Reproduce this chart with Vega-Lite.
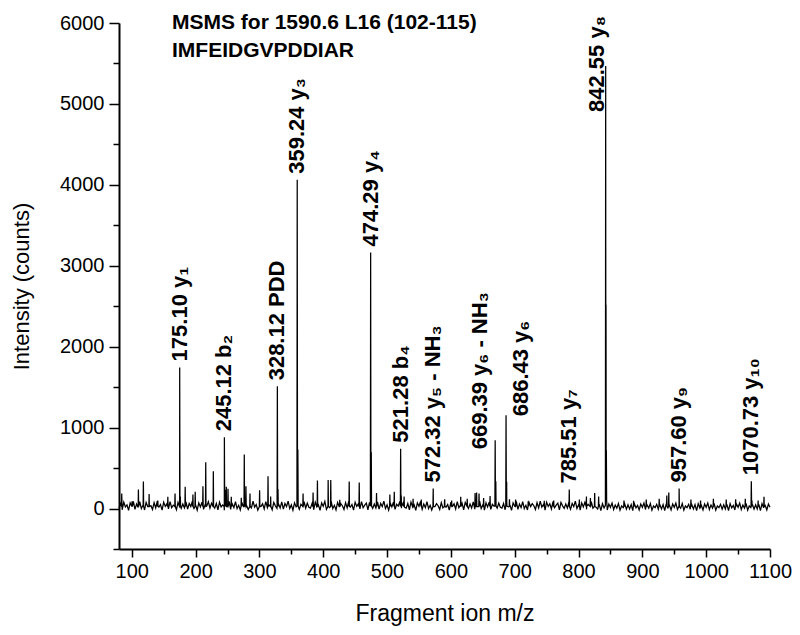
{
  "$schema": "https://vega.github.io/schema/vega-lite/v6.json",
  "width": 651,
  "height": 526,
  "padding": {"left": 10, "top": 12, "right": 5, "bottom": 2},
  "background": "white",
  "config": {
    "view": {"stroke": null},
    "font": "Liberation Sans",
    "axis": {"grid": false, "domainColor": "black", "tickColor": "black", "labelColor": "black", "titleColor": "black", "labelFont": "Liberation Sans", "titleFont": "Liberation Sans", "titleFontWeight": "normal", "domainWidth": 2, "tickWidth": 1.5, "labelOverlap": false}
  },
  "title": {"text": ["MSMS for 1590.6 L16 (102-115)", "IMFEIDGVPDDIAR"], "anchor": "start", "frame": "group", "offset": -48, "dx": 53, "fontSize": 21, "fontWeight": "bold", "font": "Liberation Sans", "color": "black", "baseline": "top", "lineHeight": 28},
  "datasets": {
    "spectrum": [
      {"mz":80,"c":5},{"mz":82.5,"c":62},{"mz":85,"c":-15},{"mz":87.5,"c":80},{"mz":90,"c":20},{"mz":92.5,"c":45},{"mz":95,"c":-22},{"mz":97.5,"c":70},{"mz":100,"c":28},{"mz":102.5,"c":88},{"mz":105,"c":-10},{"mz":107.5,"c":55},{"mz":110,"c":12},{"mz":112.5,"c":84},{"mz":115,"c":0},{"mz":117.5,"c":40},{"mz":120,"c":-18},{"mz":122.5,"c":75},{"mz":125,"c":25},{"mz":127.5,"c":60},
      {"mz":130,"c":35},{"mz":132.5,"c":-12},{"mz":135,"c":72},{"mz":137.5,"c":8},{"mz":140,"c":90},{"mz":142.5,"c":18},{"mz":145,"c":50},{"mz":147.5,"c":-20},{"mz":150,"c":78},{"mz":152.5,"c":26},{"mz":155,"c":58},{"mz":157.5,"c":-5},{"mz":160,"c":86},{"mz":162.5,"c":10},{"mz":165,"c":42},{"mz":167.5,"c":66},{"mz":170,"c":-15},{"mz":172.5,"c":76},{"mz":175,"c":33},{"mz":177.5,"c":2},
      {"mz":180,"c":55},{"mz":182.5,"c":6},{"mz":185,"c":82},{"mz":187.5,"c":-8},{"mz":190,"c":62},{"mz":192.5,"c":25},{"mz":195,"c":92},{"mz":197.5,"c":0},{"mz":200,"c":45},{"mz":202.5,"c":-20},{"mz":205,"c":70},{"mz":207.5,"c":20},{"mz":210,"c":78},{"mz":212.5,"c":-10},{"mz":215,"c":52},{"mz":217.5,"c":30},{"mz":220,"c":86},{"mz":222.5,"c":5},{"mz":225,"c":66},{"mz":227.5,"c":15},
      {"mz":230,"c":5},{"mz":232.5,"c":62},{"mz":235,"c":-15},{"mz":237.5,"c":80},{"mz":240,"c":20},{"mz":242.5,"c":45},{"mz":245,"c":-22},{"mz":247.5,"c":70},{"mz":250,"c":28},{"mz":252.5,"c":88},{"mz":255,"c":-10},{"mz":257.5,"c":55},{"mz":260,"c":12},{"mz":262.5,"c":84},{"mz":265,"c":0},{"mz":267.5,"c":40},{"mz":270,"c":-18},{"mz":272.5,"c":75},{"mz":275,"c":25},{"mz":277.5,"c":60},
      {"mz":280,"c":35},{"mz":282.5,"c":-12},{"mz":285,"c":72},{"mz":287.5,"c":8},{"mz":290,"c":90},{"mz":292.5,"c":18},{"mz":295,"c":50},{"mz":297.5,"c":-20},{"mz":300,"c":78},{"mz":302.5,"c":26},{"mz":305,"c":58},{"mz":307.5,"c":-5},{"mz":310,"c":86},{"mz":312.5,"c":10},{"mz":315,"c":42},{"mz":317.5,"c":66},{"mz":320,"c":-15},{"mz":322.5,"c":76},{"mz":325,"c":33},{"mz":327.5,"c":2},
      {"mz":330,"c":55},{"mz":332.5,"c":6},{"mz":335,"c":82},{"mz":337.5,"c":-8},{"mz":340,"c":62},{"mz":342.5,"c":25},{"mz":345,"c":92},{"mz":347.5,"c":0},{"mz":350,"c":45},{"mz":352.5,"c":-20},{"mz":355,"c":70},{"mz":357.5,"c":20},{"mz":360,"c":78},{"mz":362.5,"c":-10},{"mz":365,"c":52},{"mz":367.5,"c":30},{"mz":370,"c":86},{"mz":372.5,"c":5},{"mz":375,"c":66},{"mz":377.5,"c":15},
      {"mz":380,"c":5},{"mz":382.5,"c":62},{"mz":385,"c":-15},{"mz":387.5,"c":80},{"mz":390,"c":20},{"mz":392.5,"c":45},{"mz":395,"c":-22},{"mz":397.5,"c":70},{"mz":400,"c":28},{"mz":402.5,"c":88},{"mz":405,"c":-10},{"mz":407.5,"c":55},{"mz":410,"c":12},{"mz":412.5,"c":84},{"mz":415,"c":0},{"mz":417.5,"c":40},{"mz":420,"c":-18},{"mz":422.5,"c":75},{"mz":425,"c":25},{"mz":427.5,"c":60},
      {"mz":430,"c":35},{"mz":432.5,"c":-12},{"mz":435,"c":72},{"mz":437.5,"c":8},{"mz":440,"c":90},{"mz":442.5,"c":18},{"mz":445,"c":50},{"mz":447.5,"c":-20},{"mz":450,"c":78},{"mz":452.5,"c":26},{"mz":455,"c":58},{"mz":457.5,"c":-5},{"mz":460,"c":86},{"mz":462.5,"c":10},{"mz":465,"c":42},{"mz":467.5,"c":66},{"mz":470,"c":-15},{"mz":472.5,"c":76},{"mz":475,"c":33},{"mz":477.5,"c":2},
      {"mz":480,"c":55},{"mz":482.5,"c":6},{"mz":485,"c":82},{"mz":487.5,"c":-8},{"mz":490,"c":62},{"mz":492.5,"c":25},{"mz":495,"c":92},{"mz":497.5,"c":0},{"mz":500,"c":45},{"mz":502.5,"c":-20},{"mz":505,"c":70},{"mz":507.5,"c":20},{"mz":510,"c":78},{"mz":512.5,"c":-10},{"mz":515,"c":52},{"mz":517.5,"c":30},{"mz":520,"c":86},{"mz":522.5,"c":5},{"mz":525,"c":66},{"mz":527.5,"c":15},
      {"mz":530,"c":5},{"mz":532.5,"c":62},{"mz":535,"c":-15},{"mz":537.5,"c":80},{"mz":540,"c":20},{"mz":542.5,"c":45},{"mz":545,"c":-22},{"mz":547.5,"c":70},{"mz":550,"c":28},{"mz":552.5,"c":88},{"mz":555,"c":-10},{"mz":557.5,"c":55},{"mz":560,"c":12},{"mz":562.5,"c":84},{"mz":565,"c":0},{"mz":567.5,"c":40},{"mz":570,"c":-18},{"mz":572.5,"c":75},{"mz":575,"c":25},{"mz":577.5,"c":60},
      {"mz":580,"c":35},{"mz":582.5,"c":-12},{"mz":585,"c":72},{"mz":587.5,"c":8},{"mz":590,"c":90},{"mz":592.5,"c":18},{"mz":595,"c":50},{"mz":597.5,"c":-20},{"mz":600,"c":78},{"mz":602.5,"c":26},{"mz":605,"c":58},{"mz":607.5,"c":-5},{"mz":610,"c":86},{"mz":612.5,"c":10},{"mz":615,"c":42},{"mz":617.5,"c":66},{"mz":620,"c":-15},{"mz":622.5,"c":76},{"mz":625,"c":33},{"mz":627.5,"c":2},
      {"mz":630,"c":55},{"mz":632.5,"c":6},{"mz":635,"c":82},{"mz":637.5,"c":-8},{"mz":640,"c":62},{"mz":642.5,"c":25},{"mz":645,"c":92},{"mz":647.5,"c":0},{"mz":650,"c":45},{"mz":652.5,"c":-20},{"mz":655,"c":70},{"mz":657.5,"c":20},{"mz":660,"c":78},{"mz":662.5,"c":-10},{"mz":665,"c":52},{"mz":667.5,"c":30},{"mz":670,"c":86},{"mz":672.5,"c":5},{"mz":675,"c":66},{"mz":677.5,"c":15},
      {"mz":680,"c":5},{"mz":682.5,"c":62},{"mz":685,"c":-15},{"mz":687.5,"c":80},{"mz":690,"c":20},{"mz":692.5,"c":45},{"mz":695,"c":-22},{"mz":697.5,"c":70},{"mz":700,"c":28},{"mz":702.5,"c":88},{"mz":705,"c":-10},{"mz":707.5,"c":55},{"mz":710,"c":12},{"mz":712.5,"c":84},{"mz":715,"c":0},{"mz":717.5,"c":40},{"mz":720,"c":-18},{"mz":722.5,"c":75},{"mz":725,"c":25},{"mz":727.5,"c":60},
      {"mz":730,"c":35},{"mz":732.5,"c":-12},{"mz":735,"c":72},{"mz":737.5,"c":8},{"mz":740,"c":90},{"mz":742.5,"c":18},{"mz":745,"c":50},{"mz":747.5,"c":-20},{"mz":750,"c":78},{"mz":752.5,"c":26},{"mz":755,"c":58},{"mz":757.5,"c":-5},{"mz":760,"c":86},{"mz":762.5,"c":10},{"mz":765,"c":42},{"mz":767.5,"c":66},{"mz":770,"c":-15},{"mz":772.5,"c":76},{"mz":775,"c":33},{"mz":777.5,"c":2},
      {"mz":780,"c":55},{"mz":782.5,"c":6},{"mz":785,"c":82},{"mz":787.5,"c":-8},{"mz":790,"c":62},{"mz":792.5,"c":25},{"mz":795,"c":92},{"mz":797.5,"c":0},{"mz":800,"c":45},{"mz":802.5,"c":-20},{"mz":805,"c":70},{"mz":807.5,"c":20},{"mz":810,"c":78},{"mz":812.5,"c":-10},{"mz":815,"c":52},{"mz":817.5,"c":30},{"mz":820,"c":86},{"mz":822.5,"c":5},{"mz":825,"c":66},{"mz":827.5,"c":15},
      {"mz":830,"c":-5},{"mz":832.5,"c":50},{"mz":835,"c":-25},{"mz":837.5,"c":60},{"mz":840,"c":8},{"mz":845,"c":-18},{"mz":847.5,"c":56},{"mz":850,"c":15},{"mz":852.5,"c":68},{"mz":855,"c":-12},{"mz":857.5,"c":44},{"mz":860,"c":5},{"mz":862.5,"c":62},{"mz":865,"c":-20},{"mz":867.5,"c":32},{"mz":870,"c":12},{"mz":872.5,"c":52},{"mz":875,"c":-8},{"mz":877.5,"c":46},
      {"mz":880,"c":-5},{"mz":882.5,"c":50},{"mz":885,"c":-25},{"mz":887.5,"c":60},{"mz":890,"c":8},{"mz":892.5,"c":38},{"mz":895,"c":-18},{"mz":897.5,"c":56},{"mz":900,"c":15},{"mz":902.5,"c":68},{"mz":905,"c":-12},{"mz":907.5,"c":44},{"mz":910,"c":5},{"mz":912.5,"c":62},{"mz":915,"c":-20},{"mz":917.5,"c":32},{"mz":920,"c":12},{"mz":922.5,"c":52},{"mz":925,"c":-8},{"mz":927.5,"c":46},
      {"mz":930,"c":-5},{"mz":932.5,"c":50},{"mz":935,"c":-25},{"mz":937.5,"c":60},{"mz":940,"c":8},{"mz":942.5,"c":38},{"mz":945,"c":-18},{"mz":947.5,"c":56},{"mz":950,"c":15},{"mz":952.5,"c":68},{"mz":955,"c":-12},{"mz":957.5,"c":44},{"mz":960,"c":5},{"mz":962.5,"c":62},{"mz":965,"c":-20},{"mz":967.5,"c":32},{"mz":970,"c":12},{"mz":972.5,"c":52},{"mz":975,"c":-8},{"mz":977.5,"c":46},
      {"mz":980,"c":-5},{"mz":982.5,"c":50},{"mz":985,"c":-25},{"mz":987.5,"c":60},{"mz":990,"c":8},{"mz":992.5,"c":38},{"mz":995,"c":-18},{"mz":997.5,"c":56},{"mz":1000,"c":15},{"mz":1002.5,"c":68},{"mz":1005,"c":-12},{"mz":1007.5,"c":44},{"mz":1010,"c":5},{"mz":1012.5,"c":62},{"mz":1015,"c":-20},{"mz":1017.5,"c":32},{"mz":1020,"c":12},{"mz":1022.5,"c":52},{"mz":1025,"c":-8},{"mz":1027.5,"c":46},
      {"mz":1030,"c":-5},{"mz":1032.5,"c":50},{"mz":1035,"c":-25},{"mz":1037.5,"c":60},{"mz":1040,"c":8},{"mz":1042.5,"c":38},{"mz":1045,"c":-18},{"mz":1047.5,"c":56},{"mz":1050,"c":15},{"mz":1052.5,"c":68},{"mz":1055,"c":-12},{"mz":1057.5,"c":44},{"mz":1060,"c":5},{"mz":1062.5,"c":62},{"mz":1065,"c":-20},{"mz":1067.5,"c":32},{"mz":1070,"c":12},{"mz":1072.5,"c":52},{"mz":1075,"c":-8},{"mz":1077.5,"c":46},
      {"mz":1080,"c":-5},{"mz":1082.5,"c":50},{"mz":1085,"c":-25},{"mz":1087.5,"c":60},{"mz":1090,"c":8},{"mz":1092.5,"c":38},{"mz":1095,"c":-18},{"mz":1097.5,"c":56},{"mz":1100,"c":15},
      {"mz":83.9,"c":25},{"mz":84.3,"c":185},{"mz":84.7,"c":25},
      {"mz":100.1,"c":25},{"mz":100.5,"c":90},{"mz":100.9,"c":25},
      {"mz":110.05,"c":25},{"mz":110.4,"c":235},{"mz":110.8,"c":25},
      {"mz":117.8,"c":25},{"mz":118.2,"c":333},{"mz":118.6,"c":25},
      {"mz":126.8,"c":25},{"mz":127.2,"c":181},{"mz":127.6,"c":25},
      {"mz":140.4,"c":25},{"mz":140.8,"c":100},{"mz":141.2,"c":25},
      {"mz":156.1,"c":25},{"mz":156.5,"c":144},{"mz":156.9,"c":25},
      {"mz":167.4,"c":25},{"mz":167.8,"c":185},{"mz":168.2,"c":25},
      {"mz":174.7,"c":25},{"mz":175.1,"c":1744},{"mz":175.5,"c":30},{"mz":176.1,"c":150},{"mz":176.5,"c":25},
      {"mz":183.3,"c":25},{"mz":183.7,"c":268},{"mz":184.1,"c":25},
      {"mz":195.4,"c":25},{"mz":195.8,"c":173},{"mz":196.2,"c":25},
      {"mz":199.0,"c":25},{"mz":199.4,"c":206},{"mz":199.8,"c":25},
      {"mz":211.1,"c":25},{"mz":211.5,"c":275},{"mz":211.9,"c":25},
      {"mz":215.5,"c":25},{"mz":215.9,"c":572},{"mz":216.3,"c":25},
      {"mz":227.4,"c":25},{"mz":227.8,"c":461},{"mz":228.2,"c":25},
      {"mz":244.7,"c":25},{"mz":245.12,"c":880},{"mz":245.6,"c":30},{"mz":246.1,"c":230},{"mz":246.5,"c":25},
      {"mz":247.7,"c":25},{"mz":248.1,"c":268},{"mz":248.5,"c":25},
      {"mz":250.4,"c":25},{"mz":250.8,"c":243},{"mz":251.2,"c":25},
      {"mz":255.5,"c":25},{"mz":255.9,"c":144},{"mz":256.3,"c":25},
      {"mz":271.2,"c":25},{"mz":271.6,"c":132},{"mz":272.0,"c":25},
      {"mz":275.9,"c":25},{"mz":276.3,"c":667},{"mz":276.7,"c":25},
      {"mz":278.5,"c":25},{"mz":278.9,"c":275},{"mz":279.3,"c":25},
      {"mz":284.8,"c":25},{"mz":285.2,"c":185},{"mz":285.6,"c":25},
      {"mz":299.9,"c":25},{"mz":300.3,"c":226},{"mz":300.7,"c":25},
      {"mz":313.1,"c":25},{"mz":313.5,"c":399},{"mz":313.9,"c":25},
      {"mz":317.2,"c":25},{"mz":317.6,"c":150},{"mz":318.0,"c":25},
      {"mz":327.7,"c":25},{"mz":328.12,"c":1510},{"mz":328.6,"c":30},{"mz":329.1,"c":240},{"mz":329.5,"c":25},
      {"mz":358.8,"c":30},{"mz":359.24,"c":4062},{"mz":359.7,"c":40},{"mz":360.24,"c":728},{"mz":360.7,"c":30},
      {"mz":368.0,"c":25},{"mz":368.4,"c":185},{"mz":368.8,"c":25},
      {"mz":383.7,"c":25},{"mz":384.1,"c":198},{"mz":384.5,"c":25},
      {"mz":390.5,"c":25},{"mz":390.9,"c":346},{"mz":391.3,"c":25},
      {"mz":407.3,"c":25},{"mz":407.7,"c":353},{"mz":408.1,"c":25},
      {"mz":411.4,"c":25},{"mz":411.8,"c":353},{"mz":412.2,"c":25},
      {"mz":425.5,"c":25},{"mz":425.9,"c":107},{"mz":426.3,"c":25},
      {"mz":440.3,"c":25},{"mz":440.7,"c":333},{"mz":441.1,"c":25},
      {"mz":456.0,"c":25},{"mz":456.4,"c":321},{"mz":456.8,"c":25},
      {"mz":473.85,"c":30},{"mz":474.29,"c":3164},{"mz":474.75,"c":40},{"mz":475.29,"c":695},{"mz":475.7,"c":30},
      {"mz":483.1,"c":25},{"mz":483.5,"c":192},{"mz":483.9,"c":25},
      {"mz":504.0,"c":25},{"mz":504.4,"c":173},{"mz":504.8,"c":25},
      {"mz":510.9,"c":25},{"mz":511.3,"c":206},{"mz":511.7,"c":25},
      {"mz":520.85,"c":25},{"mz":521.28,"c":740},{"mz":521.75,"c":30},{"mz":522.28,"c":160},{"mz":522.7,"c":25},
      {"mz":526.3,"c":25},{"mz":526.7,"c":150},{"mz":527.1,"c":25},
      {"mz":540.4,"c":25},{"mz":540.8,"c":120},{"mz":541.2,"c":25},
      {"mz":553.2,"c":25},{"mz":553.6,"c":110},{"mz":554.0,"c":25},
      {"mz":571.9,"c":25},{"mz":572.32,"c":247},{"mz":572.7,"c":25},
      {"mz":589.9,"c":25},{"mz":590.3,"c":115},{"mz":590.7,"c":25},
      {"mz":600.8,"c":25},{"mz":601.2,"c":100},{"mz":601.6,"c":25},
      {"mz":615.1,"c":25},{"mz":615.4,"c":144},{"mz":615.8,"c":25},
      {"mz":625.2,"c":25},{"mz":625.6,"c":120},{"mz":626.0,"c":25},
      {"mz":637.6,"c":25},{"mz":637.9,"c":192},{"mz":638.3,"c":25},
      {"mz":639.9,"c":25},{"mz":640.3,"c":198},{"mz":640.7,"c":25},
      {"mz":643.7,"c":25},{"mz":644.1,"c":185},{"mz":644.5,"c":25},
      {"mz":650.9,"c":25},{"mz":651.3,"c":130},{"mz":651.7,"c":25},
      {"mz":661.0,"c":25},{"mz":661.4,"c":156},{"mz":661.8,"c":25},
      {"mz":668.95,"c":30},{"mz":669.39,"c":843},{"mz":669.85,"c":40},{"mz":670.39,"c":337},{"mz":670.8,"c":30},
      {"mz":686.0,"c":30},{"mz":686.43,"c":1152},{"mz":686.9,"c":40},{"mz":687.43,"c":330},{"mz":687.8,"c":30},
      {"mz":691.4,"c":25},{"mz":691.8,"c":115},{"mz":692.2,"c":25},
      {"mz":701.0,"c":25},{"mz":701.4,"c":110},{"mz":701.8,"c":25},
      {"mz":720.8,"c":25},{"mz":721.2,"c":90},{"mz":721.6,"c":25},
      {"mz":745.9,"c":25},{"mz":746.3,"c":95},{"mz":746.7,"c":25},
      {"mz":760.7,"c":25},{"mz":761.1,"c":100},{"mz":761.5,"c":25},
      {"mz":785.1,"c":25},{"mz":785.51,"c":235},{"mz":785.9,"c":25},
      {"mz":800.9,"c":25},{"mz":801.3,"c":110},{"mz":801.7,"c":25},
      {"mz":812.0,"c":25},{"mz":812.4,"c":150},{"mz":812.8,"c":25},
      {"mz":818.2,"c":25},{"mz":818.6,"c":130},{"mz":819.0,"c":25},
      {"mz":824.9,"c":25},{"mz":825.3,"c":192},{"mz":825.7,"c":25},
      {"mz":831.1,"c":25},{"mz":831.5,"c":150},{"mz":831.9,"c":25},
      {"mz":842.1,"c":40},{"mz":842.55,"c":5469},{"mz":842.8,"c":300},{"mz":843.05,"c":2518},{"mz":843.35,"c":200},{"mz":843.6,"c":720},{"mz":844.0,"c":100},{"mz":844.6,"c":30},
      {"mz":870.8,"c":25},{"mz":871.2,"c":100},{"mz":871.6,"c":25},
      {"mz":885.9,"c":25},{"mz":886.3,"c":95},{"mz":886.7,"c":25},
      {"mz":905.7,"c":25},{"mz":906.1,"c":110},{"mz":906.5,"c":25},
      {"mz":926.0,"c":25},{"mz":926.4,"c":120},{"mz":926.8,"c":25},
      {"mz":937.9,"c":25},{"mz":938.3,"c":160},{"mz":938.7,"c":25},
      {"mz":941.0,"c":25},{"mz":941.4,"c":198},{"mz":941.8,"c":25},
      {"mz":957.2,"c":25},{"mz":957.6,"c":247},{"mz":958.0,"c":25},
      {"mz":975.7,"c":25},{"mz":976.1,"c":110},{"mz":976.5,"c":25},
      {"mz":990.8,"c":25},{"mz":991.2,"c":100},{"mz":991.6,"c":25},
      {"mz":1010.9,"c":25},{"mz":1011.3,"c":120},{"mz":1011.7,"c":25},
      {"mz":1031.0,"c":25},{"mz":1031.4,"c":110},{"mz":1031.8,"c":25},
      {"mz":1045.8,"c":25},{"mz":1046.2,"c":115},{"mz":1046.6,"c":25},
      {"mz":1060.9,"c":25},{"mz":1061.3,"c":120},{"mz":1061.7,"c":25},
      {"mz":1070.3,"c":25},{"mz":1070.73,"c":337},{"mz":1071.2,"c":30},{"mz":1071.7,"c":100},{"mz":1072.1,"c":25},
      {"mz":1081.0,"c":25},{"mz":1081.4,"c":100},{"mz":1081.8,"c":25},
      {"mz":1090.2,"c":25},{"mz":1090.6,"c":144},{"mz":1091.0,"c":25}
    ],
    "labels": [
      {"mz":175.10,"c":1744,"label":"175.10 y₁"},
      {"mz":245.12,"c":880,"label":"245.12 b₂"},
      {"mz":328.12,"c":1510,"label":"328.12 PDD"},
      {"mz":359.24,"c":4062,"label":"359.24 y₃"},
      {"mz":474.29,"c":3164,"label":"474.29 y₄"},
      {"mz":521.28,"c":740,"label":"521.28 b₄"},
      {"mz":572.32,"c":247,"label":"572.32 y₅ - NH₃"},
      {"mz":669.39,"c":843,"label":"669.39 y₆ - NH₃"},
      {"mz":686.43,"c":1152,"label":"686.43 y₆"},
      {"mz":785.51,"c":235,"label":"785.51 y₇"},
      {"mz":842.55,"c":5469,"label":"842.55 y₈"},
      {"mz":957.60,"c":247,"label":"957.60 y₉"},
      {"mz":1070.73,"c":337,"label":"1070.73 y₁₀"}
    ]
  },
  "encoding": {
    "x": {"field": "mz", "type": "quantitative", "scale": {"domain": [80, 1100], "nice": false, "zero": false},
      "axis": {"title": "Fragment ion m/z", "values": [100,150,200,250,300,350,400,450,500,550,600,650,700,750,800,850,900,950,1000,1050,1100], "labelExpr": "datum.value % 100 === 0 ? datum.label : ''", "format": "d", "tickSize": {"condition": {"test": "datum.value % 100 === 0", "value": 8}, "value": 5}, "labelFontSize": 20, "titleFontSize": 23, "labelPadding": 4, "titlePadding": 21, "labelFlush": false}},
    "y": {"field": "c", "type": "quantitative", "scale": {"domain": [-500, 6000], "nice": false, "zero": false},
      "axis": {"title": "Intensity (counts)", "values": [-500,0,500,1000,1500,2000,2500,3000,3500,4000,4500,5000,5500,6000], "labelExpr": "datum.value >= 0 && datum.value % 1000 === 0 ? datum.label : ''", "format": "d", "tickSize": {"condition": {"test": "datum.value % 1000 === 0", "value": 10}, "value": 6}, "labelFontSize": 20, "titleFontSize": 22, "labelPadding": 5, "titlePadding": 26, "labelFlush": false}}
  },
  "layer": [
    {"data": {"name": "spectrum"}, "mark": {"type": "line", "color": "black", "strokeWidth": 1.25, "interpolate": "linear"}},
    {"data": {"name": "labels"}, "transform": [{"filter": "datum.mz != 669.39 && datum.mz != 686.43 && datum.mz != 842.55"}],
      "mark": {"type": "text", "angle": 270, "align": "left", "baseline": "middle", "dx": 6, "fontSize": 22, "fontWeight": "bold", "font": "Liberation Sans", "color": "black"},
      "encoding": {"text": {"field": "label"}}},
    {"data": {"name": "labels"}, "transform": [{"filter": "datum.mz == 669.39"}],
      "mark": {"type": "text", "angle": 270, "align": "left", "baseline": "middle", "dx": -9, "dy": -15, "fontSize": 22, "fontWeight": "bold", "font": "Liberation Sans", "color": "black"},
      "encoding": {"text": {"field": "label"}}},
    {"data": {"name": "labels"}, "transform": [{"filter": "datum.mz == 686.43"}],
      "mark": {"type": "text", "angle": 270, "align": "left", "baseline": "middle", "dx": -1, "dy": 15, "fontSize": 22, "fontWeight": "bold", "font": "Liberation Sans", "color": "black"},
      "encoding": {"text": {"field": "label"}}},
    {"data": {"name": "labels"}, "transform": [{"filter": "datum.mz == 842.55"}],
      "mark": {"type": "text", "angle": 270, "align": "left", "baseline": "middle", "dx": -46, "dy": -9, "fontSize": 22, "fontWeight": "bold", "font": "Liberation Sans", "color": "black"},
      "encoding": {"text": {"field": "label"}}}
  ]
}
